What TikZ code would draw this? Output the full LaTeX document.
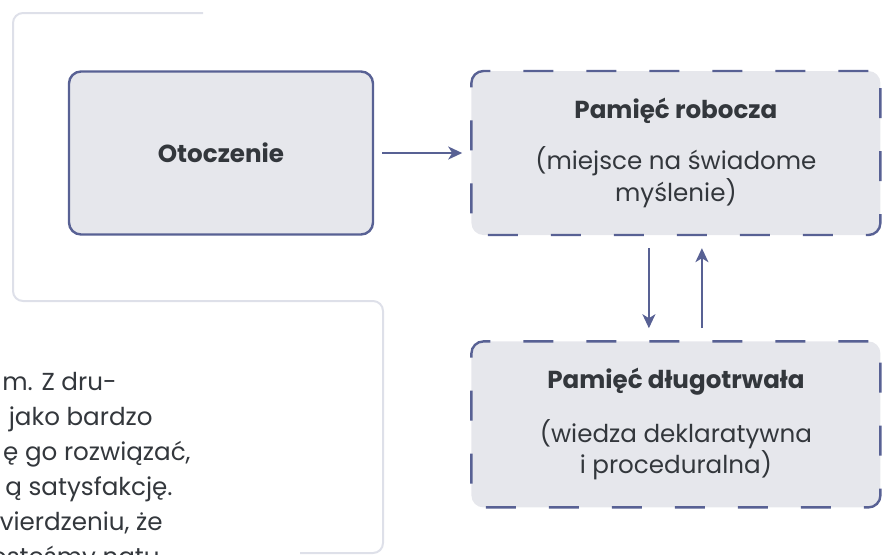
\documentclass[tikz,border=0pt]{standalone}
\usepackage{fontspec}
\setmainfont{Poppins}
\usetikzlibrary{arrows.meta, positioning}
\definecolor{FrameGrey}{RGB}{222, 224, 233}
\definecolor{BoxBlue}{RGB}{88, 97, 148}
\definecolor{BoxFill}{RGB}{230, 231, 236}
\definecolor{TextDark}{RGB}{51, 55, 60}

\begin{document}
\begin{tikzpicture}[
            x=0.5pt, y=-0.5pt,
            node distance=48pt,
            box/.style={rectangle, rounded corners=6pt, draw=BoxBlue, line width=1.2pt, fill=BoxFill,
                        align=center, text=TextDark, font=\fontsize{12.3}{14.5}\selectfont},
            dashbox/.style={box, dash pattern=on 15pt off 16.5pt},
            arrow/.style={-{Stealth[length=7pt, width=6.5pt, inset=2pt]}, line width=1pt, BoxBlue},
            bodytext/.style={anchor=base east, inner sep=0pt, text=TextDark, font=\fontsize{12.3}{14.5}\selectfont}
        ]
            \clip (0,0) rectangle (887,554);

            % grey frame behind
            \draw[FrameGrey, line width=1pt, rounded corners=5pt] (203,13) -| (13,301) -| (383,553) -- (300,553);

            % cut-off paragraph on the left
            \node[bodytext] (line1) at (117,390) {m. Z dru-};
            \node[bodytext] (line2) at (153,425) {jako bardzo};
            \node[bodytext] (line3) at (191,460) {ę go rozwiązać,};
            \node[bodytext] (line4) at (173,495) {ą satysfakcję.};
            \node[bodytext] (line5) at (163,530) {vierdzeniu, że};
            \node[bodytext] (line6) at (160,565) {osteśmy natu};

            \node[box, minimum width=152pt, minimum height=81.5pt] (env) at (221,153) {\textbf{Otoczenie}};
            \node[dashbox, minimum width=204.5pt, minimum height=82pt, right=of env] (work)
                {\textbf{Pamięć robocza}\\[11pt](miejsce na świadome\\myślenie)};
            \node[dashbox, minimum width=204.5pt, minimum height=83pt, below=52pt of work] (ltm)
                {\textbf{Pamięć długotrwała}\\[11pt](wiedza deklaratywna\\i proceduralna)};

            \draw[arrow, shorten <=4pt, shorten >=4pt] (env) -- (work);
            \draw[arrow, shorten <=6pt, shorten >=6pt] ([xshift=-13.5pt]work.south) -- ([xshift=-13.5pt]ltm.north);
            \draw[arrow, shorten <=6pt, shorten >=6pt] ([xshift=13pt]ltm.north) -- ([xshift=13pt]work.south);
        \end{tikzpicture}
\end{document}
